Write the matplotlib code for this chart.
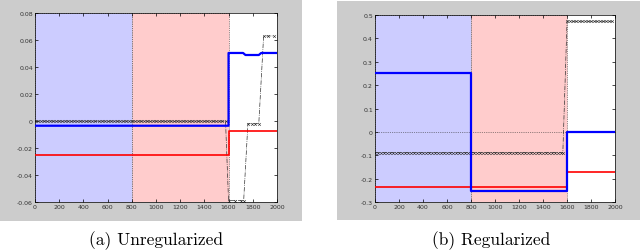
import numpy as np
import matplotlib
matplotlib.use('Agg')
import matplotlib.pyplot as plt
from matplotlib.patches import Rectangle

# x ticks shared by both panels
xticks = [0, 200, 400, 600, 800, 1000, 1200, 1400, 1600, 1800, 2000]
xlabels = ['0', '200', '400', '600', '800', '1000', '1200', '1400', '1600', '1800', '2000']

# shaded regions (start, end)
region_blue = (0, 800)
region_red = (800, 1600)

# (a) Unregularized
yticks_a = [-0.06, -0.04, -0.02, 0, 0.02, 0.04, 0.06, 0.08]
ylabels_a = ['-0.06', '-0.04', '-0.02', '0', '0.02', '0.04', '0.06', '0.08']
blue_x_a = [0, 1600, 1600, 1720, 1740, 1850, 1870, 2000]
blue_y_a = [-0.0035, -0.0035, 0.0504, 0.0504, 0.0489, 0.0489, 0.0504, 0.0504]
red_x_a = [0, 1605, 1605, 2000]
red_y_a = [-0.025, -0.025, -0.0072, -0.0072]
black_x_a = list(range(0, 1600, 25)) + [1600, 1650, 1700, 1725, 1760, 1790, 1820, 1850, 1890, 1930, 1975]
black_y_a = [0.0] * 64 + [-0.059, -0.059, -0.059, -0.059, -0.002, -0.002, -0.002, -0.002, 0.063, 0.063, 0.063]

# (b) Regularized
yticks_b = [-0.3, -0.2, -0.1, 0, 0.1, 0.2, 0.3, 0.4, 0.5]
ylabels_b = ['-0.3', '-0.2', '-0.1', '0', '0.1', '0.2', '0.3', '0.4', '0.5']
blue_x_b = [0, 800, 800, 1600, 1600, 2000]
blue_y_b = [0.25, 0.25, -0.25, -0.25, 0.0, 0.0]
red_x_b = [0, 1600, 1600, 2000]
red_y_b = [-0.234, -0.234, -0.172, -0.172]
black_x_b = list(range(0, 1575, 25)) + [1565, 1600, 1625, 1650, 1675, 1700, 1725, 1750, 1775,
                                         1800, 1825, 1850, 1875, 1900, 1925, 1950, 1975]
black_y_b = [-0.088] * 63 + [-0.088] + [0.472] * 16

fig = plt.figure(figsize=(6.4, 2.53), dpi=100)
fig.patch.set_facecolor('white')

# grey panel backgrounds
fig.patches.append(Rectangle((0.0, 0.1225), 0.472, 0.877, transform=fig.transFigure,
                             facecolor='#cccccc', edgecolor='none', zorder=-1))
fig.patches.append(Rectangle((0.5266, 0.128), 0.4734, 0.864, transform=fig.transFigure,
                             facecolor='#cccccc', edgecolor='none', zorder=-1))


def panel(rect, ylim, yticks, ylabels, bx, by, rx, ry, kx, ky, caption, cx):
	ax = fig.add_axes(rect)
	ax.set_zorder(1)
	ax.set_facecolor('white')
	ax.axvspan(*region_blue, facecolor='#ccccff', edgecolor='#333333', linestyle=':', linewidth=0.5, zorder=0)
	ax.axvspan(*region_red, facecolor='#ffcccc', edgecolor='#333333', linestyle=':', linewidth=0.5, zorder=0)
	ax.plot([0, 1600], [0, 0], ':', color='#333333', linewidth=0.5, zorder=1)
	ax.plot(kx, ky, '-.x', color='#333333', linewidth=0.5, markersize=2, markeredgewidth=0.4, zorder=2)
	ax.plot(rx, ry, color='red', linewidth=1.2, zorder=3)
	ax.plot(bx, by, color='blue', linewidth=1.6, zorder=4)
	ax.set_xlim(0, 2000)
	ax.set_ylim(*ylim)
	ax.set_xticks(xticks)
	ax.set_xticklabels(xlabels)
	ax.set_yticks(yticks)
	ax.set_yticklabels(ylabels)
	ax.tick_params(direction='in', length=2, width=0.5, labelsize=4.5, pad=1.5,
	               top=True, right=True, labelcolor='#333333')
	for s in ax.spines.values():
		s.set_linewidth(0.5)
	fig.text(cx, 0.049, caption, ha='center', va='center', fontsize=12.5, family='cmr10')
	return ax


panel([0.0547, 0.1976, 0.378, 0.747], (-0.06, 0.08), yticks_a, ylabels_a,
      blue_x_a, blue_y_a, red_x_a, red_y_a, black_x_a, black_y_a, '(a) Unregularized', 0.243)
panel([0.586, 0.1964, 0.375, 0.7415], (-0.3, 0.5), yticks_b, ylabels_b,
      blue_x_b, blue_y_b, red_x_b, red_y_b, black_x_b, black_y_b, '(b) Regularized', 0.767)

fig.savefig('out.png', dpi=100)
